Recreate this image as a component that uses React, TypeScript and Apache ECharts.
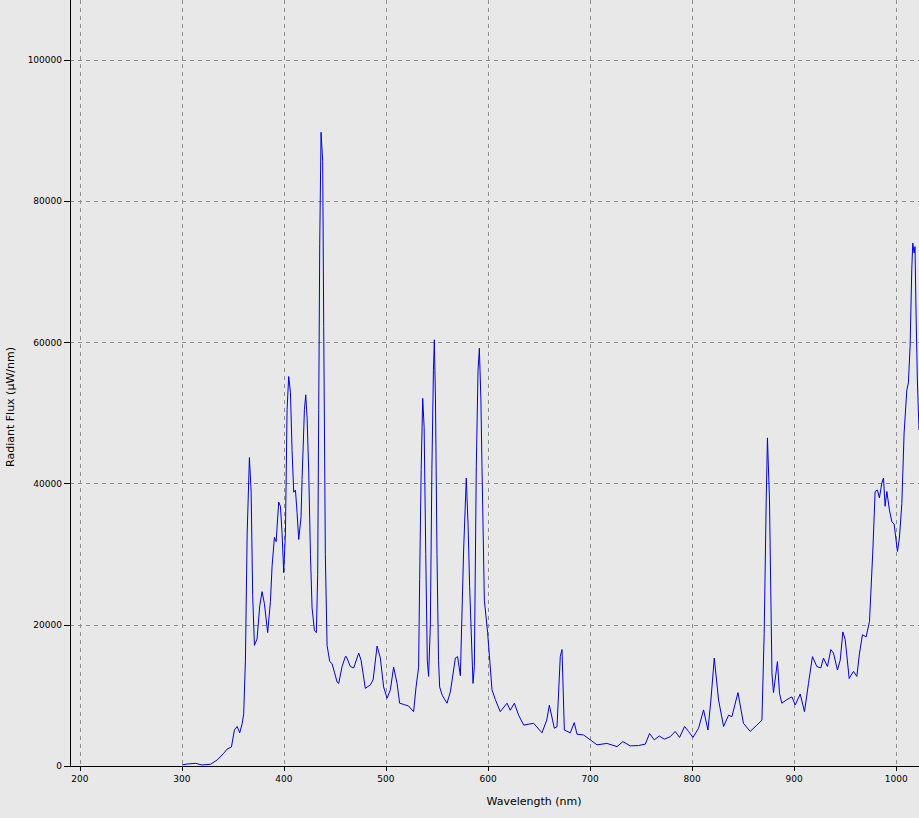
import React, { useEffect, useRef } from "react";
import * as echarts from "echarts";

const wavelength: number[] = [
  300.3, 305.2, 313.3, 319.9, 328.0, 334.6, 341.0, 344.4, 348.6, 351.5,
  354.2, 356.7, 359.1, 360.6, 362.3, 364.0, 366.2, 367.9, 369.4, 371.1,
  373.7, 376.3, 378.6, 380.9, 384.1, 386.8, 388.4, 390.7, 392.4, 394.9,
  396.6, 398.2, 399.8, 401.5, 403.1, 404.7, 406.4, 408.0, 409.6, 411.3,
  412.9, 414.5, 416.8, 417.8, 420.1, 421.4, 422.7, 424.3, 426.0, 427.6,
  429.9, 431.8, 433.1, 434.1, 435.1, 436.4, 438.0, 439.0, 440.6, 442.3,
  444.9, 447.2, 449.5, 452.1, 453.7, 457.0, 460.2, 461.2, 465.1, 468.4,
  473.3, 475.6, 479.8, 484.7, 487.4, 491.3, 494.5, 497.7, 501.1, 504.3,
  507.5, 510.9, 513.4, 518.0, 522.2, 527.1, 529.5, 532.0, 533.0, 534.5,
  536.0, 537.4, 539.0, 540.5, 541.8, 543.5, 545.0, 546.5, 547.4, 548.5,
  550.0, 551.5, 552.6, 555.2, 559.8, 563.1, 568.0, 570.2, 572.9, 576.1,
  578.7, 580.5, 582.0, 585.3, 586.6, 588.5, 590.2, 591.5, 593.0, 594.1,
  596.4, 599.6, 603.9, 607.2, 612.0, 618.6, 621.8, 625.8, 630.0, 634.9,
  644.7, 652.9, 657.5, 660.1, 665.0, 667.6, 670.8, 672.5, 674.8, 680.6,
  684.5, 687.2, 693.6, 700.2, 706.8, 716.5, 726.4, 732.2, 739.4, 747.5,
  754.1, 758.3, 762.9, 767.8, 772.7, 778.5, 783.4, 787.7, 792.6, 796.5,
  800.8, 806.3, 811.2, 815.5, 818.4, 821.7, 825.9, 830.8, 835.7, 839.0,
  844.9, 850.3, 856.9, 863.5, 868.4, 870.6, 872.6, 873.8, 875.8, 878.2,
  879.7, 883.6, 885.6, 887.9, 892.8, 897.8, 901.0, 905.9, 910.1, 914.0,
  917.9, 922.2, 926.1, 928.7, 932.6, 935.9, 938.5, 942.4, 945.1, 947.7,
  950.0, 953.9, 958.1, 961.4, 964.0, 966.9, 970.5, 973.8, 977.1, 979.3,
  981.6, 983.5, 985.9, 987.5, 989.1, 990.8, 993.3, 995.7, 997.9, 1001.2,
  1003.1, 1005.5, 1007.7, 1010.4, 1011.9, 1013.6, 1015.2, 1016.2, 1017.5, 1018.4,
  1019.4, 1020.7, 1022.3,
];

const radiantFlux: number[] = [
  150, 280, 380, 150, 240, 850, 1800, 2400, 2700, 5100,
  5600, 4700, 6000, 7400, 15000, 33000, 43700, 38800, 24200, 17100,
  18000, 22700, 24700, 23000, 18900, 23300, 28300, 32400, 31800, 37400,
  36800, 33000, 27400, 33000, 50500, 55200, 52900, 44700, 38800, 39100,
  35900, 32100, 35300, 40600, 50500, 52600, 49400, 41800, 30000, 22400,
  19200, 18900, 27100, 50500, 74000, 89800, 85700, 62300, 30000, 17100,
  14800, 14500, 13300, 11900, 11700, 14100, 15500, 15500, 14100, 13900,
  16000, 15000, 11000, 11500, 12200, 17000, 15300, 11200, 9600, 10800,
  14000, 11700, 8900, 8700, 8500, 7700, 11200, 14000, 26400, 42000,
  52100, 48000, 30000, 15000, 12700, 20000, 42000, 56000, 60400, 52000,
  30000, 15000, 11200, 10000, 8900, 10500, 15300, 15500, 12800, 30600,
  40800, 34000, 25400, 11700, 14100, 42400, 56000, 59200, 52000, 42400,
  23500, 18900, 10800, 9400, 7700, 8900, 7900, 8900, 7200, 5800,
  6050, 4700, 6500, 8600, 5350, 5570, 15500, 16500, 5100, 4700,
  6150, 4500, 4400, 3700, 3000, 3200, 2750, 3450, 2850, 2900,
  3100, 4600, 3700, 4250, 3800, 4150, 4900, 4050, 5600, 4900,
  4050, 5350, 7950, 5100, 9350, 15300, 9350, 5600, 7200, 7000,
  10400, 6050, 4900, 5800, 6500, 18800, 37700, 46500, 37700, 13200,
  10400, 14800, 10300, 8900, 9400, 9800, 8650, 10200, 7700, 11700,
  15500, 14100, 13900, 15300, 14100, 16500, 16000, 13600, 15000, 19000,
  17900, 12400, 13400, 12700, 16000, 18600, 18300, 20500, 30600, 38900,
  39100, 38000, 40100, 40800, 36800, 38900, 36300, 34600, 34300, 30400,
  32300, 37200, 47200, 53300, 54300, 59500, 70300, 74100, 72700, 73600,
  64200, 54700, 47600,
];

const xTicks: number[] = [200, 300, 400, 500, 600, 700, 800, 900, 1000];
const yTicks: number[] = [0, 20000, 40000, 60000, 80000, 100000];

const xLabel = "Wavelength (nm)";
const yLabel = "Radiant Flux (µW/nm)";

export default function App() {
  const ref = useRef<HTMLDivElement>(null);

  useEffect(() => {
    if (!ref.current) return;
    const chart = echarts.init(ref.current, undefined, { renderer: "svg" });
    const font = "DejaVu Sans";
    const gridLine = { show: true, lineStyle: { color: "#8f8f8f", type: [4, 4] as any, width: 1 } };
    const plain = (v: number) => String(v);
    chart.setOption({
      animation: false,
      backgroundColor: "#e8e8e8",
      textStyle: { fontFamily: font },
      grid: { left: 70, right: 0, top: 0, bottom: 52, containLabel: false },
      xAxis: {
        type: "value",
        min: 190.4,
        max: 1022.3,
        axisLine: { show: true, onZero: false, lineStyle: { color: "#000", width: 1 } },
        axisTick: { show: true, length: 5, customValues: xTicks, lineStyle: { color: "#000" } },
        axisLabel: { customValues: xTicks, formatter: plain, fontSize: 9, color: "#000", fontFamily: font, margin: 8 },
        splitLine: gridLine,
      },
      yAxis: {
        type: "value",
        min: 0,
        max: 108550,
        axisLine: { show: true, lineStyle: { color: "#000", width: 1 } },
        axisTick: { show: true, length: 6, customValues: yTicks, lineStyle: { color: "#000" } },
        axisLabel: { customValues: yTicks, formatter: plain, fontSize: 9, color: "#000", fontFamily: font, margin: 8 },
        splitLine: gridLine,
      },
      graphic: [
        {
          type: "text",
          x: 534,
          y: 801,
          style: { text: xLabel, fill: "#000", font: `11px "${font}"`, align: "center", verticalAlign: "middle" },
        },
        {
          type: "text",
          x: 10,
          y: 407,
          rotation: Math.PI / 2,
          style: { text: yLabel, fill: "#000", font: `11px "${font}"`, align: "center", verticalAlign: "middle" },
        },
      ],
      series: [
        {
          type: "line",
          data: wavelength.map((w, i) => [w, radiantFlux[i]]),
          showSymbol: false,
          symbol: "none",
          lineStyle: { color: "#0000e0", width: 1 },
          clip: true,
        },
      ],
    });
    return () => chart.dispose();
  }, []);

  return (
    <div
      ref={ref}
      style={{ position: "fixed", left: 0, top: 0, width: 919, height: 818 }}
    />
  );
}
